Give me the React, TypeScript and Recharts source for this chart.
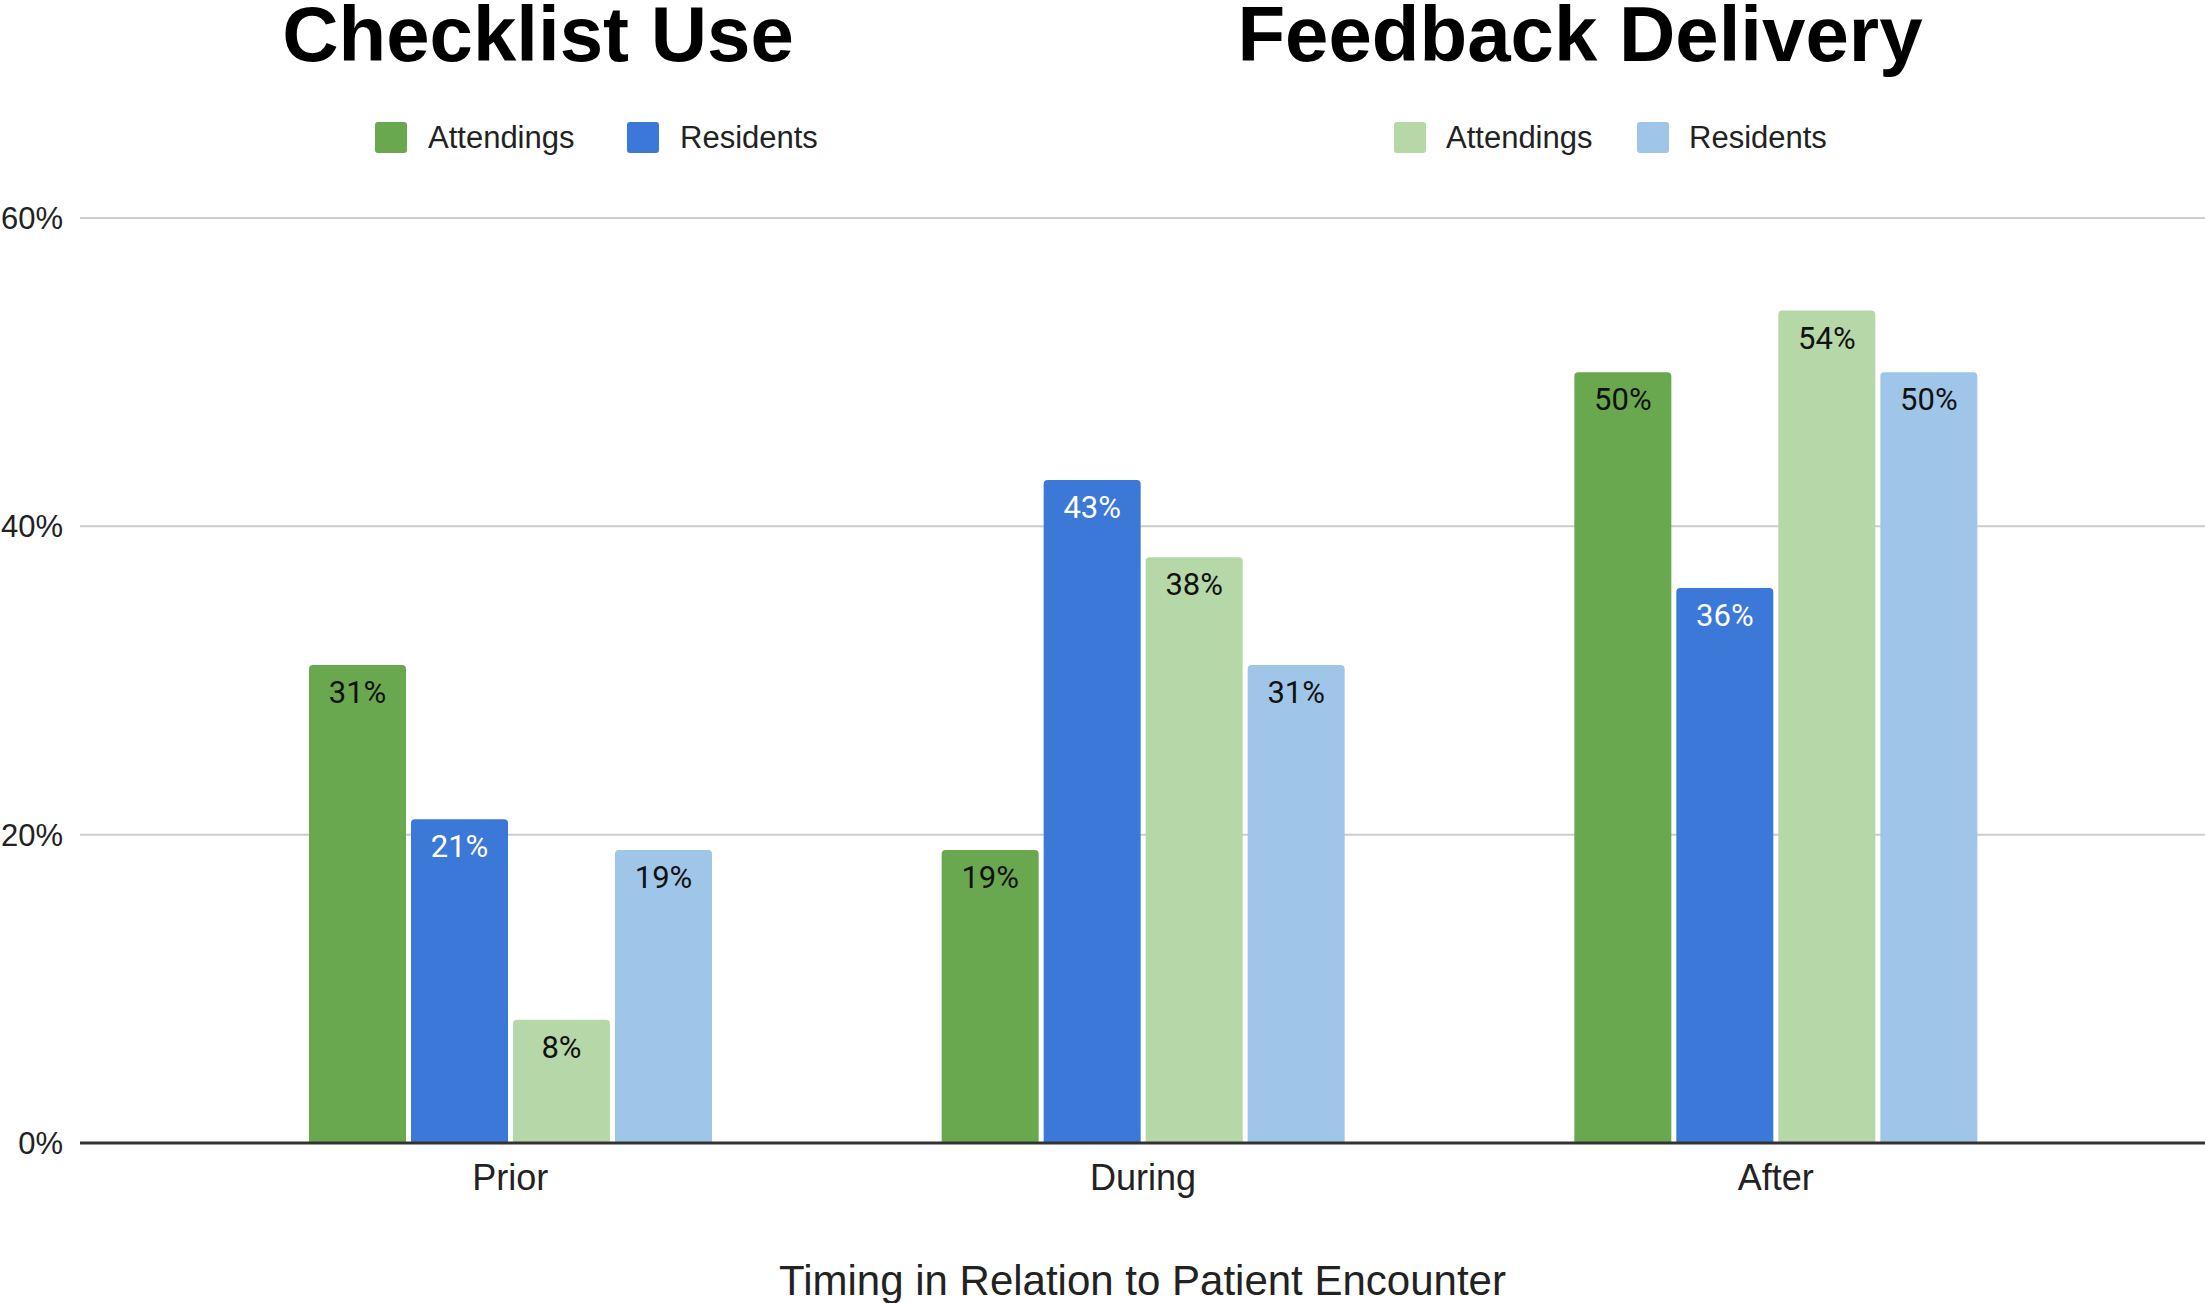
import React from 'react';
import { BarChart, Bar, XAxis, YAxis, CartesianGrid, LabelList, Label } from 'recharts';

const categories = ['Prior', 'During', 'After'];
const checklistAttendings = [31, 19, 50];
const checklistResidents = [21, 43, 36];
const feedbackAttendings = [8, 38, 54];
const feedbackResidents = [19, 31, 50];
const yTicks = [0, 20, 40, 60];

const COLORS = {
  checklistAttendings: '#6aa84f',
  checklistResidents: '#3c78d8',
  feedbackAttendings: '#b6d7a8',
  feedbackResidents: '#9fc5e8',
};

const data = categories.map((category, i) => ({
  category,
  checklistAttendings: checklistAttendings[i],
  checklistResidents: checklistResidents[i],
  feedbackAttendings: feedbackAttendings[i],
  feedbackResidents: feedbackResidents[i],
}));

const ARIAL = "'Liberation Sans', Arial, sans-serif";
const ROBOTO = "Roboto, 'Liberation Sans', sans-serif";

const makeLabel = (color: string) => (props: any) => {
  const { x, y, width, value } = props;
  return (
    <text
      x={Number(x) + Number(width) / 2}
      y={Number(y) + 38}
      textAnchor="middle"
      fill={color}
      fontSize={31}
      fontFamily={ROBOTO}
    >
      {`${value}%`}
    </text>
  );
};

const legendItems = [
  { label: 'Attendings', color: COLORS.checklistAttendings, sq: 375, tx: 428 },
  { label: 'Residents', color: COLORS.checklistResidents, sq: 627, tx: 680 },
  { label: 'Attendings', color: COLORS.feedbackAttendings, sq: 1394, tx: 1446 },
  { label: 'Residents', color: COLORS.feedbackResidents, sq: 1637, tx: 1689 },
];

export default function App() {
  return (
    <div style={{ position: 'absolute', left: 0, top: 0, width: 2205, height: 1303, background: '#fff', overflow: 'hidden' }}>
      <BarChart
        width={2205}
        height={1303}
        data={data}
        margin={{ top: 218, right: 0, bottom: 0, left: 0 }}
        barGap={5}
        barSize={97}
      >
        <CartesianGrid vertical={false} stroke="#cccccc" strokeWidth={2} />
        <XAxis
          dataKey="category"
          height={160}
          padding={{ left: 114, right: 113 }}
          tickLine={false}
          tickSize={0}
          tickMargin={21}
          axisLine={{ stroke: '#333333', strokeWidth: 3 }}
          tick={{ fontSize: 36, fill: '#222222', fontFamily: ARIAL }}
        >
          <Label
            value="Timing in Relation to Patient Encounter"
            position="insideBottom"
            offset={8}
            style={{ fontSize: 42, fill: '#222222', fontFamily: ARIAL }}
          />
        </XAxis>
        <YAxis
          width={80}
          domain={[0, 60]}
          ticks={yTicks}
          tickFormatter={(v: number) => `${v}%`}
          axisLine={false}
          tickLine={false}
          tickSize={0}
          tickMargin={17}
          tick={{ fontSize: 31, fill: '#222222', fontFamily: ARIAL }}
        />
        <Bar dataKey="checklistAttendings" name="Attendings" fill={COLORS.checklistAttendings} radius={[4, 4, 0, 0]} isAnimationActive={false}>
          <LabelList dataKey="checklistAttendings" content={makeLabel('#111111')} />
        </Bar>
        <Bar dataKey="checklistResidents" name="Residents" fill={COLORS.checklistResidents} radius={[4, 4, 0, 0]} isAnimationActive={false}>
          <LabelList dataKey="checklistResidents" content={makeLabel('#ffffff')} />
        </Bar>
        <Bar dataKey="feedbackAttendings" name="Attendings" fill={COLORS.feedbackAttendings} radius={[4, 4, 0, 0]} isAnimationActive={false}>
          <LabelList dataKey="feedbackAttendings" content={makeLabel('#111111')} />
        </Bar>
        <Bar dataKey="feedbackResidents" name="Residents" fill={COLORS.feedbackResidents} radius={[4, 4, 0, 0]} isAnimationActive={false}>
          <LabelList dataKey="feedbackResidents" content={makeLabel('#111111')} />
        </Bar>
      </BarChart>
      <svg
        width={2205}
        height={200}
        style={{ position: 'absolute', left: 0, top: 0, pointerEvents: 'none' }}
      >
        <text x={538} y={61} textAnchor="middle" fontSize={78} fontWeight="bold" fontFamily={ARIAL} fill="#000">
          Checklist Use
        </text>
        <text x={1580} y={61} textAnchor="middle" fontSize={78} fontWeight="bold" fontFamily={ARIAL} fill="#000">
          Feedback Delivery
        </text>
        {legendItems.map((it, i) => (
          <g key={i}>
            <rect x={it.sq} y={122} width={32} height={31} rx={3} ry={3} fill={it.color} />
            <text x={it.tx} y={148} fontSize={31} fontFamily={ARIAL} fill="#222222">
              {it.label}
            </text>
          </g>
        ))}
      </svg>
    </div>
  );
}
